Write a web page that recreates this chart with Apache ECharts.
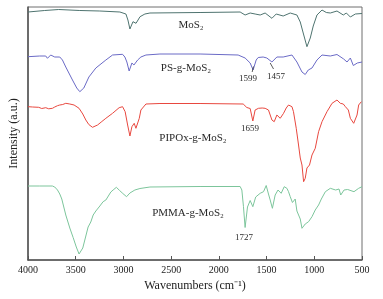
<!DOCTYPE html>
<html>
<head>
<meta charset="utf-8">
<script src="https://cdn.jsdelivr.net/npm/echarts@6/dist/echarts.min.js"></script>
<style>
  html, body { margin: 0; padding: 0; background: #fff; }
  #chart { width: 383px; height: 299px; }
</style>
</head>
<body>
<div id="chart"></div>
<script>
// FTIR spectra, [wavenumber (cm-1), intensity (a.u., stacked offset)]
const mos2 = [
    [4000, 248], [3825, 249.5], [3678, 250.5], [3457, 249.5], [3247, 249], [3037, 248],
    [2974, 246], [2953, 240], [2932, 231], [2900, 238.3], [2868, 236.7], [2826, 243.3],
    [2775, 246], [2722, 247], [2197, 247.5], [1777, 248], [1725, 245], [1672, 247],
    [1620, 246], [1567, 245], [1515, 247], [1444, 241.7], [1399, 246], [1326, 244],
    [1252, 247], [1182, 245], [1147, 238], [1116, 227], [1077, 213.3], [1042, 222],
    [1011, 234], [972, 245], [919, 250], [874, 247.5], [832, 247], [762, 249],
    [696, 245], [664, 247], [622, 243], [570, 246], [500, 246.5]
];
const psMos2 = [
    [4000, 203.3], [3877, 204], [3814, 204], [3796, 201.7], [3762, 205], [3720, 203],
    [3667, 203], [3639, 200], [3604, 193], [3534, 180], [3489, 172], [3457, 168.3],
    [3415, 172], [3362, 183], [3289, 192], [3184, 200], [3114, 205], [3009, 205.7],
    [2985, 203], [2964, 198], [2940, 189], [2911, 197], [2890, 195], [2851, 200],
    [2817, 203], [2764, 205], [2617, 206], [2197, 206], [1798, 205], [1725, 202],
    [1672, 197], [1641, 190], [1609, 200], [1588, 202.5], [1536, 203], [1497, 202],
    [1483, 200], [1444, 198], [1392, 203], [1326, 203], [1234, 205], [1182, 198],
    [1129, 188], [1095, 185.5], [1063, 190], [1024, 192], [972, 200], [919, 205],
    [832, 204], [762, 205.5], [692, 201], [657, 198], [622, 202], [591, 194.5],
    [549, 197], [500, 198]
];
const pipoxMos2 = [
    [4000, 153.3], [3951, 153], [3888, 152.7], [3856, 151.5], [3814, 152.3], [3783, 151.2],
    [3744, 151.7], [3720, 153], [3691, 154.3], [3667, 155], [3636, 155.5], [3604, 156.7],
    [3562, 156], [3517, 155], [3465, 151.7], [3426, 146], [3394, 140], [3363, 135.5],
    [3324, 132.7], [3271, 135], [3226, 138.5], [3184, 141.7], [3114, 146.7], [3045, 152.3],
    [3009, 153.3], [2982, 148.3], [2956, 135], [2932, 124], [2911, 133.3], [2887, 136.7],
    [2869, 131.7], [2834, 141.7], [2817, 150], [2764, 156], [2617, 156.5], [2197, 156.5],
    [1745, 156], [1707, 152.5], [1672, 151.5], [1644, 139], [1620, 150], [1585, 151.7],
    [1546, 152], [1515, 151.7], [1480, 150], [1444, 140], [1420, 138.3], [1392, 145],
    [1357, 141.7], [1322, 146.7], [1294, 152], [1270, 155], [1234, 153.3], [1218, 148.3],
    [1189, 131.7], [1165, 115], [1147, 102], [1129, 95], [1112, 78.3], [1095, 81.7],
    [1077, 92], [1050, 95], [1024, 105], [990, 111.7], [955, 128.3], [919, 138.3],
    [867, 148.3], [814, 156.7], [762, 160], [727, 156.7], [696, 156], [674, 153.3],
    [643, 150], [622, 141.7], [587, 136.7], [552, 145], [535, 155], [507, 158.3]
];
const pmmaMos2 = [
    [4000, 74], [3877, 74], [3744, 74], [3720, 73], [3691, 70], [3667, 66],
    [3646, 61], [3604, 45], [3562, 32], [3527, 22.5], [3494, 13], [3465, 6],
    [3447, 7], [3426, 12], [3394, 24], [3370, 33], [3342, 38], [3317, 45],
    [3289, 49], [3247, 54], [3213, 58.3], [3184, 60], [3132, 68], [3108, 70],
    [3074, 72.7], [3040, 69.5], [3021, 67.5], [3006, 66.5], [2992, 68], [2967, 63.3],
    [2932, 67], [2880, 70], [2827, 71.5], [2722, 73], [2197, 73.5], [1777, 73.5],
    [1759, 70], [1742, 53.3], [1725, 32.5], [1700, 53], [1672, 59.5], [1644, 53.3],
    [1614, 63], [1567, 66.7], [1532, 68.3], [1504, 74.5], [1480, 66], [1462, 60],
    [1439, 51.7], [1410, 65], [1380, 70], [1347, 66.7], [1315, 73.3], [1287, 71.7],
    [1270, 68.3], [1252, 63.3], [1229, 57.5], [1200, 61], [1182, 49], [1147, 41],
    [1129, 31.7], [1095, 36], [1060, 38.3], [1042, 38.3], [1024, 43.3], [990, 50],
    [955, 55], [926, 61], [884, 68.3], [832, 71.7], [776, 70], [741, 71],
    [723, 65], [688, 70], [650, 70.5], [584, 68.3], [535, 71.7], [500, 73.3]
];

const seriesNames = ['MoS₂', 'PS-g-MoS₂', 'PIPOx-g-MoS₂', 'PMMA-g-MoS₂'];
const seriesColors = ['#4e736f', '#6a6ac6', '#e8483f', '#7cc59b'];
const xTicks = [500, 1000, 1500, 2000, 2500, 3000, 3500, 4000];

const serif = 'Liberation Serif, Times New Roman, serif';
const chart = echarts.init(document.getElementById('chart'));

function lineSeries(name, data, color, extra) {
    return Object.assign({
        name: name,
        type: 'line',
        data: data,
        symbol: 'none',
        lineStyle: { color: color, width: 1 },
        silent: true
    }, extra || {});
}

function pointer(from, to) {
    return {
        silent: true,
        symbol: 'none',
        label: { show: false },
        lineStyle: { color: '#333', width: 0.8, type: 'solid' },
        data: [[{ coord: from }, { coord: to }]]
    };
}

function textAt(x, y, text, size) {
    return {
        type: 'text', x: x, y: y,
        style: { text: text, font: size + 'px ' + serif, fill: '#2a2a2a', align: 'center', verticalAlign: 'middle' }
    };
}

const option = {
    animation: false,
    grid: {
        left: 28, right: 21, top: 7, bottom: 39,
        show: true, borderColor: '#6e6e6e', borderWidth: 1
    },
    xAxis: {
        type: 'value',
        min: 500,
        max: 4000,
        interval: 500,
        inverse: true,
        name: 'Wavenumbers (cm⁻¹)',
        nameLocation: 'middle',
        nameGap: 20,
        nameTextStyle: { fontFamily: serif, fontSize: 12, color: '#222' },
        axisLine: { lineStyle: { color: '#555', width: 1.5 } },
        axisTick: { inside: true, length: 4, lineStyle: { color: '#555' } },
        axisLabel: { fontFamily: serif, fontSize: 10, color: '#222', margin: 5,
            formatter: v => xTicks.includes(v) ? String(v) : '' },
        splitLine: { show: false }
    },
    yAxis: {
        type: 'value',
        min: 0,
        max: 253,
        name: 'Intensity (a.u.)',
        nameLocation: 'middle',
        nameGap: 8,
        nameTextStyle: { fontFamily: serif, fontSize: 12, color: '#222' },
        axisLine: { show: true, lineStyle: { color: '#555', width: 1.5 } },
        axisTick: { show: false },
        axisLabel: { show: false },
        splitLine: { show: false }
    },
    graphic: [
        textAt(191, 25, seriesNames[0], 11),
        textAt(186, 68, seriesNames[1], 11),
        textAt(193, 138, seriesNames[2], 11),
        textAt(188, 213, seriesNames[3], 11),
        textAt(248, 79, '1599', 9),
        textAt(276, 77, '1457', 9),
        textAt(250, 129, '1659', 9),
        textAt(244, 238, '1727', 9)
    ],
    series: [
        lineSeries(seriesNames[0], mos2, seriesColors[0]),
        lineSeries(seriesNames[1], psMos2, seriesColors[1], {
            markLine: pointer([1651, 188], [1637, 193.5])
        }),
        lineSeries(seriesNames[2], pipoxMos2, seriesColors[2]),
        lineSeries(seriesNames[3], pmmaMos2, seriesColors[3]),
        { type: 'line', data: [], silent: true, markLine: pointer([1427, 191], [1462, 197]) }
    ]
};

chart.setOption(option);
</script>
</body>
</html>
